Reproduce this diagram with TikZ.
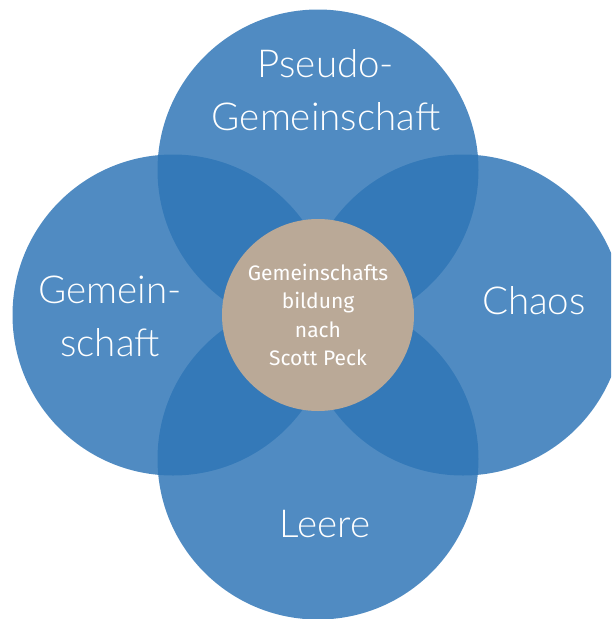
\documentclass[tikz,border=0pt]{standalone}
\usepackage{fontspec}
\newfontfamily\petalfont{Lato Light}
\newfontfamily\hubfont{Fira Sans}
\definecolor{petalblue}{RGB}{46,117,182}
\definecolor{hubtan}{RGB}{186,169,151}
\begin{document}
\begin{tikzpicture}[x=1pt, y=-1pt, petal/.style={circle,fill=petalblue,fill opacity=0.84,minimum size=321pt,inner sep=0pt}, hub/.style={circle,fill=hubtan,minimum size=192pt,inner sep=0pt,text=white,align=center,font=\hubfont\fontsize{21}{28.5}\selectfont}, petal label/.style={text=white,align=center,font=\petalfont\fontsize{38.5}{53}\selectfont}]
\useasboundingbox (0,0) rectangle (611,619);
\clip (0,0) rectangle (611,619);
\begin{scope}
\node[petal] (top) at (318,170) {};
\node[petal] (left) at (173,315) {};
\node[petal] (right) at (463,315) {};
\node[petal] (bottom) at (318,459) {};
\end{scope}
\node[hub] (hub) at (318,315) {Gemeinschafts\\bildung\\nach\\Scott Peck};
\begin{scope}[every node/.style={petal label}]
\node (pseudo) at (326,90) {Pseudo-\\Gemeinschaft};
\node (gemein) at (110,316) {Gemein-\\schaft};
\node (chaos) at (534,301) {Chaos};
\node (leere) at (325,524) {Leere};
\end{scope}
\end{tikzpicture}
\end{document}
